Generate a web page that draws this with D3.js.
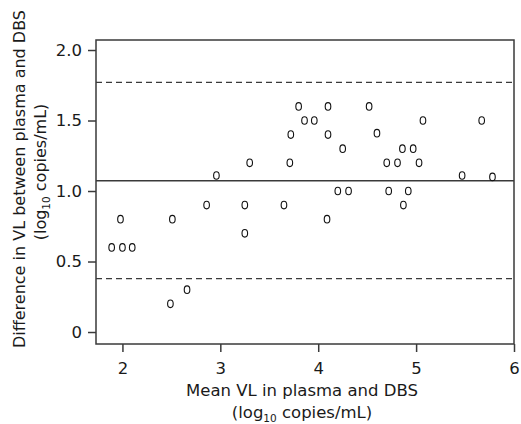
<!DOCTYPE html>
<html lang="en">
<head>
  <meta charset="UTF-8">
  <title>Bland-Altman VL</title>
  <script src="https://d3js.org/d3.v7.min.js"></script>
  <style>
    body { margin: 0; background: #fff; }
    text { font-family: "DejaVu Sans", sans-serif; fill: #1a1a1a; }
  </style>
</head>
<body>
  <div id="chart"></div>
  <script type="text/javascript">
    // mean of plasma and DBS VL (log10) and their difference
    var meanVL = [1.89, 2.0, 2.1, 1.98, 2.51, 2.49, 2.66, 2.86, 2.96, 3.25, 3.25, 3.3,
                  3.65, 3.71, 3.72, 3.8, 3.86, 3.96, 4.1, 4.1, 4.25, 4.2, 4.31, 4.09,
                  4.52, 4.6, 4.7, 4.81, 4.86, 4.97, 5.03, 4.72, 4.92, 4.87, 5.07, 5.67,
                  5.47, 5.78];
    var diffVL = [0.6, 0.6, 0.6, 0.8, 0.8, 0.2, 0.3, 0.9, 1.11, 0.9, 0.7, 1.2,
                  0.9, 1.2, 1.4, 1.6, 1.5, 1.5, 1.6, 1.4, 1.3, 1.0, 1.0, 0.8,
                  1.6, 1.41, 1.2, 1.2, 1.3, 1.3, 1.2, 1.0, 1.0, 0.9, 1.5, 1.5,
                  1.11, 1.1];
    var meanDiff = 1.073;
    var limits = [1.771, 0.378];
    var xTicks = [2, 3, 4, 5, 6];
    var yTicks = [0, 0.5, 1.0, 1.5, 2.0];

    var width = 521, height = 424;
    var pLeft = 96, pRight = 514, pTop = 40, pBottom = 344;

    var svg = d3.select("#chart").append("svg")
      .attr("width", width)
      .attr("height", height);

    var x = d3.scaleLinear().domain([1.73, 6]).range([pLeft, pRight]);
    var y = d3.scaleLinear().domain([-0.085, 2.071]).range([pBottom, pTop]);

    var lineCol = "#3a3a3a";

    // axes
    var xAxis = svg.append("g")
      .attr("transform", "translate(0," + pBottom + ")")
      .call(d3.axisBottom(x).tickValues(xTicks).tickSize(8).tickPadding(10)
        .tickFormat(d3.format("d")));
    var yAxis = svg.append("g")
      .attr("transform", "translate(" + pLeft + ",0)")
      .call(d3.axisLeft(y).tickValues(yTicks).tickSize(8).tickPadding(6)
        .tickFormat(function (d) { return d === 0 ? "0" : d3.format(".1f")(d); }));

    [xAxis, yAxis].forEach(function (g) {
      g.select(".domain").remove();
      g.selectAll("line").attr("stroke", lineCol).attr("stroke-width", 1.5);
      g.selectAll("text").style("font-size", "16.5px").attr("fill", "#1a1a1a");
    });

    // frame
    svg.append("rect")
      .attr("x", pLeft).attr("y", pTop)
      .attr("width", pRight - pLeft).attr("height", pBottom - pTop)
      .attr("fill", "none").attr("stroke", lineCol).attr("stroke-width", 1.5);

    // mean difference and limits of agreement
    svg.append("line")
      .attr("x1", pLeft).attr("x2", pRight)
      .attr("y1", y(meanDiff)).attr("y2", y(meanDiff))
      .attr("stroke", lineCol).attr("stroke-width", 1.5);

    svg.selectAll(".limit")
      .data(limits)
      .enter()
      .append("line")
        .attr("class", "limit")
        .attr("x1", pLeft).attr("x2", pRight)
        .attr("y1", function (d) { return y(d); })
        .attr("y2", function (d) { return y(d); })
        .attr("stroke", lineCol).attr("stroke-width", 1.3)
        .attr("stroke-dasharray", "6,4");

    // points
    svg.selectAll(".pt")
      .data(meanVL)
      .enter()
      .append("ellipse")
        .attr("class", "pt")
        .attr("cx", function (d) { return x(d); })
        .attr("cy", function (d, i) { return y(diffVL[i]); })
        .attr("rx", 2.8).attr("ry", 3.8)
        .attr("fill", "none").attr("stroke", "#111").attr("stroke-width", 1.1);

    // axis titles
    function subTitle(t) {
      t.append("tspan").text("(log");
      t.append("tspan").attr("dy", 4).style("font-size", "10.5px").text("10");
      t.append("tspan").attr("dy", -4).text(" copies/mL)");
    }

    svg.append("text")
      .attr("text-anchor", "middle")
      .attr("x", 302).attr("y", 396)
      .style("font-size", "16.5px")
      .text("Mean VL in plasma and DBS");
    svg.append("text")
      .attr("text-anchor", "middle")
      .attr("x", 302).attr("y", 418)
      .style("font-size", "16.5px")
      .call(subTitle);

    svg.append("text")
      .attr("text-anchor", "middle")
      .attr("transform", "translate(25,179) rotate(-90)")
      .style("font-size", "16px")
      .text("Difference in VL between plasma and DBS");
    svg.append("text")
      .attr("text-anchor", "middle")
      .attr("transform", "translate(46,172) rotate(-90)")
      .style("font-size", "16px")
      .call(subTitle);
  </script>
</body>
</html>
